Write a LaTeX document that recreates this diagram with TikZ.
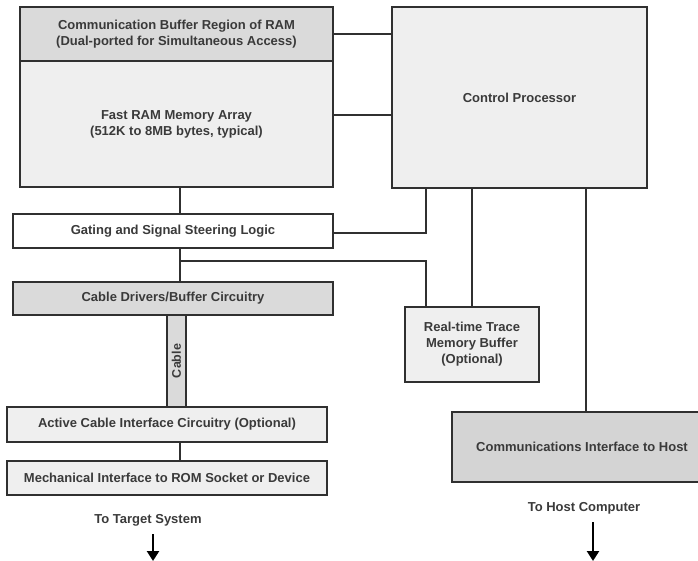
\documentclass[tikz,border=0pt]{standalone}
\usepackage{fontspec}
\setmainfont{Liberation Sans}
\usetikzlibrary{arrows.meta,calc}
\definecolor{txt}{HTML}{3A3A3A}
\definecolor{edge}{HTML}{303030}
\definecolor{lightfill}{HTML}{EFEFEF}
\definecolor{midfill}{HTML}{DADADA}
\definecolor{darkfill}{HTML}{D4D4D4}
\begin{document}
\begin{tikzpicture}[x=1pt,y=-1pt,
  box/.style={draw=edge,line width=1.6pt,inner sep=0pt,align=center,text=txt,
    font=\fontsize{13}{16}\selectfont\bfseries},
  wire/.style={draw=edge,line width=2.6pt},
  lbl/.style={text=txt,font=\fontsize{13}{16}\selectfont\bfseries,inner sep=1pt},
  arr/.style={draw=black,line width=2.4pt,-{Triangle[length=10pt,width=12pt]}}]
\useasboundingbox (0,0) rectangle (698,561);
% memory column
\node[box,fill=midfill,minimum width=313,minimum height=54] (buf) at (176.5,34)
  {Communication Buffer Region of RAM\\(Dual-ported for Simultaneous Access)};
\node[box,fill=lightfill,minimum width=313,minimum height=126] (ram) at (176.5,124)
  {Fast RAM Memory Array\\(512K to 8MB bytes, typical)};
\node[box,fill=lightfill,minimum width=255,minimum height=181] (cp) at (519.5,97.5)
  {Control Processor};
\node[box,fill=white,minimum width=320,minimum height=34] (gate) at (173,231)
  {Gating and Signal Steering Logic};
\node[box,fill=midfill,minimum width=320,minimum height=33] (drv) at (173,298.5)
  {Cable Drivers/Buffer Circuitry};
\node[box,fill=midfill,minimum width=19,minimum height=92,line width=1.4pt] (cable) at (176.5,361)
  {\rotatebox{90}{\fontsize{12.5}{14}\selectfont\bfseries Cable}};
\node[box,fill=lightfill,minimum width=320,minimum height=35] (act) at (167,424.5)
  {Active Cable Interface Circuitry (Optional)};
\node[box,fill=lightfill,minimum width=320,minimum height=34] (mech) at (167,478)
  {Mechanical Interface to ROM Socket or Device};
\node[box,fill=lightfill,minimum width=134,minimum height=75] (trace) at (472,344.5)
  {Real-time Trace\\Memory Buffer\\(Optional)};
\node[box,draw=none,fill=darkfill,minimum width=245,minimum height=68] (comm) at (575.5,447)
  {\hspace*{13pt}Communications Interface to Host};
\draw[edge,line width=1.6pt] (comm.north east) -- (comm.north west) -- (comm.south west) -- (comm.south east);
% labels
\node[lbl] (tgt) at (148,520) {To Target System};
\node[lbl] (host) at (584,508) {To Host Computer};
\coordinate (ta) at (153,534);
\coordinate (tb) at (153,561);
\coordinate (ha) at (593,522);
\coordinate (hb) at (593,561);
% wires
\coordinate (bus) at (180,0);
\coordinate (c1) at (426,0);
\coordinate (c2) at (472,0);
\coordinate (c3) at (586,0);
\coordinate (r1) at (333,115);
\coordinate (br) at (180,261);
\draw[wire] (buf.east) -- (buf.east -| cp.west);
\draw[wire] (r1) -- (r1 -| cp.west);
\draw[wire] (ram.south -| bus) -- (gate.north -| bus);
\draw[wire] ([yshift=-2pt]gate.east) -| (cp.south -| c1);
\draw[wire] (gate.south -| bus) -- (drv.north -| bus);
\draw[wire] (br) -| (trace.north -| c1);
\draw[wire] (cp.south -| c2) -- (trace.north -| c2);
\draw[wire] (cp.south -| c3) -- (comm.north -| c3);
\draw[wire] (act.south -| bus) -- (mech.north -| bus);
\draw[arr] (ta) -- (tb);
\draw[arr] (ha) -- (hb);
\end{tikzpicture}
\end{document}
